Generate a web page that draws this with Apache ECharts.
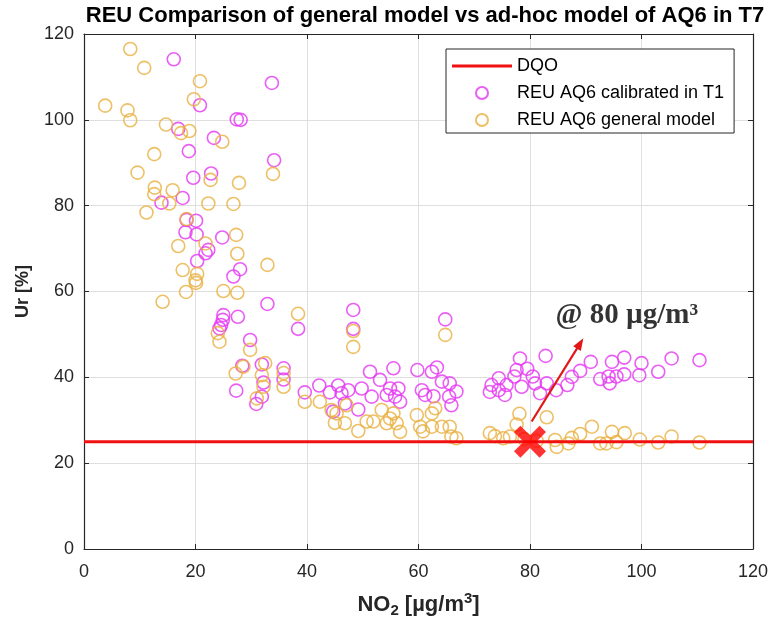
<!DOCTYPE html>
<html>
<head>
<meta charset="utf-8">
<script src="https://cdn.jsdelivr.net/npm/echarts@6/dist/echarts.min.js"></script>
<style>
  html, body { margin: 0; padding: 0; background: #ffffff; }
  #chart { width: 772px; height: 631px; }
</style>
</head>
<body>
<div id="chart"></div>
<script>
// NO2 [µg/m3] vs relative expanded uncertainty Ur [%]
const titleText = 'REU Comparison of general model vs ad-hoc model of AQ6 in T7';
const legendNames = ['DQO', 'REU AQ6 calibrated in T1', 'REU AQ6 general model'];
const xTicks = [0, 20, 40, 60, 80, 100, 120];
const yTicks = [0, 20, 40, 60, 80, 100, 120];

// data quality objective (Ur limit)
const dqoLevel = 25;
const dqoRange = [0, 120];

// REU of the ad-hoc model (calibrated in T1): [NO2, Ur]
const calibratedPoints = [
  [16.1, 114.1], [20.8, 103.4], [27.4, 100.1], [28.1, 100.0], [33.7, 108.6], [34.1, 90.6],
  [16.9, 97.9], [23.3, 95.8], [18.8, 92.7], [22.8, 87.5], [19.6, 86.5], [17.7, 81.8],
  [13.9, 80.7], [18.4, 76.7], [20.1, 76.5], [18.2, 73.8], [20.2, 73.3], [24.8, 72.6],
  [22.3, 69.7], [21.8, 68.9], [20.3, 67.1], [26.8, 63.5], [28.0, 65.2], [32.9, 57.1],
  [27.6, 54.1], [25.0, 54.5], [24.9, 53.4], [24.6, 52.2], [24.3, 51.4], [38.4, 51.3],
  [48.3, 55.7], [48.3, 51.3], [29.8, 48.7], [28.4, 42.7], [31.9, 43.0], [35.8, 42.1],
  [35.8, 39.5], [32.2, 38.8], [27.3, 36.9], [31.9, 35.5], [30.9, 33.8], [39.6, 36.5],
  [42.2, 38.1], [44.1, 36.5], [45.6, 38.1], [46.2, 36.3], [47.4, 37.0], [44.7, 32.0],
  [46.8, 33.9], [49.8, 37.4], [51.3, 41.3], [53.1, 39.4], [55.5, 42.1], [51.6, 35.5],
  [49.2, 32.5], [54.9, 37.4], [56.4, 37.4], [54.3, 35.9], [55.8, 35.5], [56.7, 34.3],
  [59.8, 41.7], [62.4, 41.3], [63.3, 42.3], [60.6, 37.0], [61.2, 35.9], [62.7, 35.6],
  [64.2, 39.0], [65.6, 38.6], [66.8, 36.7], [65.9, 33.5], [65.5, 35.5], [64.8, 53.5],
  [73.1, 38.2], [74.4, 39.8], [74.4, 37.0], [75.8, 38.2], [75.5, 35.9], [72.8, 36.6],
  [78.2, 44.4], [77.6, 41.7], [79.5, 42.0], [77.2, 40.2], [78.5, 37.8], [80.5, 40.2],
  [80.9, 38.6], [81.8, 36.3], [82.8, 45.0], [83.0, 38.6], [84.7, 37.0], [86.7, 38.2],
  [87.5, 40.1], [89.0, 41.5], [90.9, 43.6], [92.6, 39.6], [94.1, 40.2], [94.7, 43.6],
  [94.3, 38.6], [95.5, 40.2], [96.9, 40.7], [96.9, 44.6], [99.6, 40.5], [100.0, 43.3],
  [103.0, 41.3], [105.4, 44.4], [110.4, 44.0]
];

// REU of the general model: [NO2, Ur]
const generalPoints = [
  [8.3, 116.5], [10.8, 112.1], [20.8, 109.0], [3.8, 103.3], [19.7, 104.8], [7.8, 102.2],
  [8.3, 99.9], [14.7, 98.9], [17.4, 96.9], [18.9, 97.4], [24.8, 94.9], [12.6, 92.0],
  [9.6, 87.7], [22.7, 86.0], [27.8, 85.3], [33.9, 87.4], [12.7, 84.2], [15.9, 83.6],
  [12.6, 82.7], [15.3, 80.5], [22.3, 80.5], [26.8, 80.4], [11.2, 78.4], [18.4, 76.9],
  [16.9, 70.6], [21.8, 71.2], [27.3, 73.2], [27.5, 68.8], [17.7, 65.0], [20.3, 64.1],
  [20.1, 62.0], [20.0, 62.6], [18.3, 59.9], [25.0, 60.1], [27.5, 59.7], [14.1, 57.6],
  [32.9, 66.2], [24.0, 50.3], [24.3, 48.3], [38.4, 54.8], [48.3, 50.8], [48.3, 47.1],
  [29.8, 46.4], [28.6, 42.5], [27.2, 40.9], [32.5, 43.3], [31.9, 40.5], [35.8, 37.8],
  [35.8, 41.0], [32.2, 37.8], [31.0, 35.1], [39.6, 34.3], [42.3, 34.3], [44.4, 32.4],
  [45.3, 31.6], [45.0, 29.4], [46.8, 29.3], [49.2, 27.5], [50.7, 29.7], [51.9, 29.7],
  [47.1, 33.5], [53.4, 32.4], [54.9, 30.4], [56.1, 29.3], [54.3, 29.3], [56.7, 27.3],
  [55.5, 31.6], [59.7, 31.2], [62.4, 31.6], [63.0, 32.8], [60.3, 28.5], [62.4, 28.5],
  [64.2, 28.5], [65.6, 28.5], [65.9, 26.2], [66.8, 25.8], [60.8, 27.4], [64.8, 49.9],
  [72.8, 27.0], [73.7, 26.3], [75.2, 25.8], [76.4, 26.2], [78.1, 31.5], [77.6, 29.0],
  [79.0, 25.6], [81.2, 25.2], [83.0, 30.7], [84.5, 25.4], [84.8, 23.8], [86.9, 24.6],
  [87.5, 25.9], [89.0, 26.8], [91.1, 28.5], [92.6, 24.6], [93.7, 24.6], [94.7, 27.3],
  [95.5, 24.9], [97.0, 27.0], [99.7, 25.5], [103.0, 24.8], [105.4, 26.2], [110.4, 24.8]
];

// highlighted operating point and its callout
const focusPoint = [80, 25];
const arrowFrom = [80.3, 29.7];
const arrowTo = [89.0, 47.9];
const calloutText = '@ 80 µg/m³';
const calloutAnchor = [84.5, 54.3];

const ink = '#262626';
const sans = "'Liberation Sans', Arial, Helvetica, sans-serif";
const magenta = '#e536f2';
const orange = '#e9b040';
const dqoRed = '#f01010';

const crossPath = 'path://M2,0 L5,3 L8,0 L10,2 L7,5 L10,8 L8,10 L5,7 L2,10 L0,8 L3,5 L0,2 Z';
const lineIcon = 'path://M0,0 L60,0 L60,3 L0,3 Z';

const chart = echarts.init(document.getElementById('chart'), null, { renderer: 'canvas' });

const boxAxis = (pos) => ({
  type: 'value', min: 0, max: 120, interval: 20, position: pos,
  axisLine: { show: true, onZero: false, lineStyle: { color: ink, width: 1.2 } },
  axisTick: { show: true, inside: true, length: 5, lineStyle: { color: ink } },
  axisLabel: { show: false },
  splitLine: { show: false }
});

chart.setOption({
  animation: false,
  backgroundColor: '#ffffff',
  title: {
    text: titleText,
    left: 420, textAlign: 'center', top: 0,
    textStyle: { fontFamily: sans, fontSize: 22, fontWeight: 'bold', color: '#000000' }
  },
  grid: { left: 84, right: 19, top: 34, bottom: 82, containLabel: false },
  legend: {
    data: [
      { name: legendNames[0], icon: lineIcon, itemStyle: { color: dqoRed } },
      { name: legendNames[1] },
      { name: legendNames[2] }
    ],
    orient: 'vertical',
    left: 446, top: 49,
    padding: [8, 10, 4, 6],
    itemGap: 9,
    itemWidth: 60, itemHeight: 12,
    backgroundColor: '#ffffff',
    borderColor: ink, borderWidth: 1,
    textStyle: { fontFamily: sans, fontSize: 18, color: '#000000' }
  },
  xAxis: [
    {
      type: 'value', min: 0, max: 120, interval: 20, position: 'bottom',
      name: 'NO{sub|2} [µg/m{sup|3}]',
      nameLocation: 'middle', nameGap: 42,
      nameTextStyle: {
        fontFamily: sans, fontSize: 22, fontWeight: 'bold', color: ink,
        rich: {
          sub: { fontSize: 15, fontWeight: 'bold', color: ink, fontFamily: sans, verticalAlign: 'bottom', padding: [12, 0, 0, 0] },
          sup: { fontSize: 15, fontWeight: 'bold', color: ink, fontFamily: sans, verticalAlign: 'top', padding: [0, 0, 12, 0] }
        }
      },
      axisLine: { show: true, onZero: false, lineStyle: { color: ink, width: 1.2 } },
      axisTick: { show: true, inside: true, length: 5, lineStyle: { color: ink } },
      axisLabel: { fontFamily: sans, fontSize: 18, color: ink, margin: 14,
        formatter: (v) => xTicks.includes(v) ? String(v) : '' },
      splitLine: { show: true, lineStyle: { color: '#dfdfdf', width: 1 } }
    },
    boxAxis('top')
  ],
  yAxis: [
    {
      type: 'value', min: 0, max: 120, interval: 20, position: 'left',
      name: 'Ur [%]',
      nameLocation: 'middle', nameGap: 52, nameRotate: 90,
      nameTextStyle: { fontFamily: sans, fontSize: 18, fontWeight: 'bold', color: ink },
      axisLine: { show: true, onZero: false, lineStyle: { color: ink, width: 1.2 } },
      axisTick: { show: true, inside: true, length: 5, lineStyle: { color: ink } },
      axisLabel: { fontFamily: sans, fontSize: 18, color: ink, margin: 10,
        formatter: (v) => yTicks.includes(v) ? String(v) : '' },
      splitLine: { show: true, lineStyle: { color: '#dfdfdf', width: 1 } }
    },
    boxAxis('right')
  ],
  series: [
    {
      name: legendNames[1],
      type: 'scatter',
      data: calibratedPoints,
      symbol: 'circle', symbolSize: 13,
      itemStyle: { color: 'rgba(0,0,0,0)', borderColor: magenta, borderWidth: 1.6 },
      z: 3
    },
    {
      name: legendNames[2],
      type: 'scatter',
      data: generalPoints,
      symbol: 'circle', symbolSize: 13,
      itemStyle: { color: 'rgba(0,0,0,0)', borderColor: orange, borderWidth: 1.6 },
      z: 3
    },
    {
      name: legendNames[0],
      type: 'line',
      data: [[dqoRange[0], dqoLevel], [dqoRange[1], dqoLevel]],
      showSymbol: false, symbol: 'none',
      symbolKeepAspect: true,
      lineStyle: { color: dqoRed, width: 3 },
      itemStyle: { color: dqoRed },
      z: 4
    },
    {
      name: 'focus',
      type: 'scatter',
      data: [focusPoint],
      symbol: crossPath, symbolSize: 32,
      itemStyle: { color: '#ff0000' },
      z: 6,
      markLine: {
        silent: true,
        symbol: ['none', 'triangle'],
        symbolSize: [9, 12],
        label: { show: false },
        lineStyle: { color: '#e01818', width: 2.2, type: 'solid' },
        data: [[{ coord: arrowFrom }, { coord: arrowTo }]]
      }
    },
    {
      name: 'callout',
      type: 'scatter',
      data: [calloutAnchor],
      symbolSize: 1,
      itemStyle: { color: 'rgba(0,0,0,0)' },
      label: {
        show: true, position: 'right', distance: 0,
        formatter: calloutText,
        fontFamily: "'Liberation Serif', 'Times New Roman', serif",
        fontWeight: 'bold', fontSize: 29, color: '#000000'
      },
      z: 6
    }
  ]
});
</script>
</body>
</html>
